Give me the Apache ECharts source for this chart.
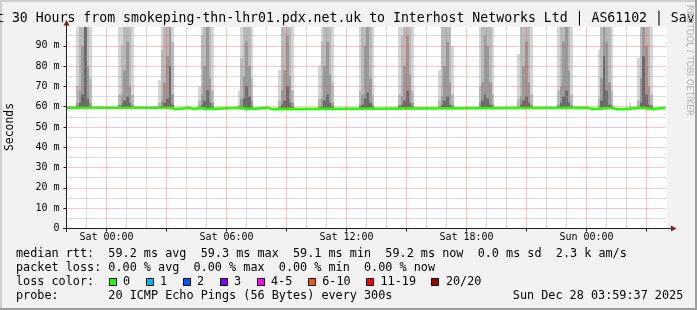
<!DOCTYPE html>
<html><head><meta charset="utf-8">
<script src="https://cdn.jsdelivr.net/npm/echarts@6/dist/echarts.min.js"></script>
<style>html,body{margin:0;padding:0;background:#f2f2f2;}#c{width:697px;height:310px;}</style>
</head><body><div id="c"></div>
<script>
// ---------- data (x = hours since Fri 22:00, y = milliseconds) ----------
const xLabelHours = [2, 8, 14, 20, 26];
const xLabelTexts = ['Sat 00:00', 'Sat 06:00', 'Sat 12:00', 'Sat 18:00', 'Sun 00:00'];
const xMajorGrid = [2, 5, 8, 11, 14, 17, 20, 23, 26, 29];
const xMinorGrid = [1, 3, 4, 6, 7, 9, 10, 12, 13, 15, 16, 18, 19, 21, 22, 24, 25, 27, 28];
const yLabelValues = [0, 10, 20, 30, 40, 50, 60, 70, 80, 90];
const yMajorGrid = [10, 20, 30, 40, 50, 60, 70, 80, 90];
const yMinorGrid = [5, 15, 25, 35, 45, 55, 65, 75, 85, 95];
const yMax = 99.2;

// smoke: start hour of each burst, column step (hours), base and per-column tops [dark, mid, light, lightest]
const smokeStart = [0.475, 2.575, 4.575, 6.575, 8.55, 10.575, 12.575, 14.6, 16.575, 18.575, 20.6, 22.525, 24.525, 26.55, 28.525, 28.1];
const smokeStep = 0.1333;
const smokeBase = 59.2;
const smokeCols = [
  [[60,62,70,99.2],[62,68,99.2,99.2],[66,90,99.2,99.2],[99.2,99.2,99.2,99.2],[64,80,99.2,99.2],[60,62,74,99.2]],
  [[60,61,66,99.2],[61,66,90,99.2],[63,78,99.2,99.2],[65,92,99.2,99.2],[62,70,99.2,99.2],[60,61,66,99.2]],
  [[59.5,60,62,73],[60,63,88,99.2],[62,72,99.2,99.2],[64,85,99.2,99.2],[80,99.2,99.2,99.2],[61,66,92,99.2]],
  [[59.5,60,63,70],[61,66,95,99.2],[63,80,99.2,99.2],[68,99.2,99.2,99.2],[62,74,99.2,99.2],[60,62,68,99.2]],
  [[59.5,60,61,68],[60,64,84,99.2],[64,75,99.2,99.2],[70,92,99.2,99.2],[65,80,99.2,99.2],[60,63,74,99.2]],
  [[59.5,60,63,78],[61,68,99.2,99.2],[63,78,99.2,99.2],[70,95,99.2,99.2],[62,75,99.2,99.2],[60,62,68,99.2]],
  [[59.5,60,64,80],[60,64,92,99.2],[63,80,99.2,99.2],[66,92,99.2,99.2],[62,76,99.2,99.2],[60,62,72,99.2]],
  [[60,61,68,99.2],[61,66,99.2,99.2],[64,90,99.2,99.2],[67,99.2,99.2,99.2],[62,74,99.2,99.2],[60,61,66,99.2]],
  [[60,61,66,99.2],[61,65,95,99.2],[63,80,99.2,99.2],[68,95,99.2,99.2],[62,76,99.2,99.2],[60,62,68,99.2]],
  [[59.5,60,63,78],[61,65,99.2,99.2],[63,80,99.2,99.2],[65,92,99.2,99.2],[61,72,99.2,99.2],[60,61,66,90]],
  [[60,62,70,99.2],[63,72,99.2,99.2],[66,95,99.2,99.2],[64,90,99.2,99.2],[61,72,99.2,99.2],[60,61,66,99.2]],
  [[59.5,60,64,86],[61,65,99.2,99.2],[63,80,99.2,99.2],[65,92,99.2,99.2],[62,72,99.2,99.2],[60,61,66,99.2]],
  [[60,61,68,99.2],[62,70,99.2,99.2],[65,92,99.2,99.2],[68,99.2,99.2,99.2],[62,78,99.2,99.2],[60,61,66,99.2]],
  [[59.5,60,64,88],[63,74,99.2,99.2],[85,99.2,99.2,99.2],[68,92,99.2,99.2],[61,72,99.2,99.2],[60,61,68,99.2]],
  [[59.5,60,63,84],[62,74,99.2,99.2],[85,99.2,99.2,99.2],[66,90,99.2,99.2],[61,70,99.2,99.2],[60,61,66,99.2]],
  [[59.3,59.5,60,62]]
];
const smokeShades = ['#d6d6d6', '#bababa', '#9a9a9a', '#6a6a6a'];

// median rtt: base level and dips [start hour, end hour, value]
const medianStart = 0, medianEnd = 29.93, medianBase = 59.5;
const medianDips = [
  [5.28, 5.43, 58.8], [6.18, 6.33, 58.8], [6.8, 6.95, 58.8], [8.73, 9.03, 58.8], [10.08, 10.28, 58.8],
  [26.08, 26.28, 58.8], [27.3, 27.5, 58.8], [27.6, 27.9, 58.8], [28.75, 29.3, 58.8]
];

// legend statistics
const rttStats = [59.2, 59.3, 59.1, 59.2];   // avg, max, min, now
const rttSd = 0.0;
const amS = 2.3;
const lossStats = [0.00, 0.00, 0.00, 0.00];  // avg, max, min, now
const lossLabels = ['0', '1', '2', '3', '4-5', '6-10', '11-19', '20/20'];
const lossColors = ['#26ff00', '#00b8ff', '#0059ff', '#7e00ff', '#ff00ff', '#ff5500', '#ff0000', '#a10000'];
const titleText = 't 30 Hours from smokeping-thn-lhr01.pdx.net.uk to Interhost Networks Ltd | AS61102 | Sav';
const probeText = '20 ICMP Echo Pings (56 Bytes) every 300s';
const dateText = 'Sun Dec 28 03:59:37 2025';

// ---------- build ----------
const smokeItems = [];
smokeStart.forEach((t, s) => {
  smokeCols[s].forEach((tops, c) => {
    const t0 = t + c * smokeStep, t1 = t0 + smokeStep;
    for (let k = 3; k >= 0; k--) {
      if (tops[k] > smokeBase) smokeItems.push([t0, t1, smokeBase, tops[k], 3 - k]);
    }
  });
});

const medianLine = [[medianStart, medianBase]];
medianDips.forEach(d => {
  medianLine.push([d[0], medianBase], [d[0], d[2]], [d[1], d[2]], [d[1], medianBase]);
});
medianLine.push([medianEnd, medianBase]);

const MONO = 'DejaVu Sans Mono';
const gridRed = 'rgba(222,79,79,0.6)';
const gridGray = 'rgba(143,143,143,0.6)';

const markData = [];
const dash = [1, 1];
xMinorGrid.forEach(v => markData.push({xAxis: v, lineStyle: {color: gridGray, type: dash, width: 1}}));
yMinorGrid.forEach(v => markData.push({yAxis: v, lineStyle: {color: gridGray, type: dash, width: 1}}));
xMajorGrid.forEach(v => markData.push({xAxis: v, lineStyle: {color: gridRed, type: dash, width: 1}}));
yMajorGrid.forEach(v => markData.push({yAxis: v, lineStyle: {color: gridRed, type: dash, width: 1}}));

const f1 = v => v.toFixed(1), f2 = v => v.toFixed(2);
const line1 = `median rtt:  ${f1(rttStats[0])} ms avg  ${f1(rttStats[1])} ms max  ${f1(rttStats[2])} ms min  ${f1(rttStats[3])} ms now  ${f1(rttSd)} ms sd  ${f1(amS)} k am/s`;
const line2 = `packet loss: ${f2(lossStats[0])} % avg  ${f2(lossStats[1])} % max  ${f2(lossStats[2])} % min  ${f2(lossStats[3])} % now`;
const line4 = 'probe:       ' + probeText;

const LF = '11.8px ' + MONO;
const graphics = [
  {type: 'rect', shape: {x: 0, y: 0, width: 697, height: 2}, style: {fill: '#cfcfcf'}, silent: true},
  {type: 'rect', shape: {x: 0, y: 0, width: 2, height: 310}, style: {fill: '#cfcfcf'}, silent: true},
  {type: 'rect', shape: {x: 695, y: 0, width: 2, height: 310}, style: {fill: '#9e9e9e'}, silent: true},
  {type: 'rect', shape: {x: 0, y: 308, width: 697, height: 2}, style: {fill: '#9e9e9e'}, silent: true},
  {type: 'text', x: -4, y: 19, style: {text: titleText, font: '13.2px ' + MONO, fill: '#000', textVerticalAlign: 'middle'}},
  {type: 'text', x: 689, y: 5, rotation: -Math.PI / 2, style: {text: 'RRDTOOL / TOBI OETIKER', font: '8.6px DejaVu Sans', fill: '#b4b4b4', textVerticalAlign: 'middle', textAlign: 'left'}},
  {type: 'text', x: 10.5, y: 127, rotation: Math.PI / 2, style: {text: 'Seconds', font: '11.4px ' + MONO, fill: '#000', textAlign: 'center', textVerticalAlign: 'middle'}},
  // axes
  {type: 'line', shape: {x1: 66.5, y1: 232, x2: 66.5, y2: 24}, style: {stroke: '#1f1f1f', lineWidth: 1}, z: 100},
  {type: 'line', shape: {x1: 63, y1: 228.5, x2: 671, y2: 228.5}, style: {stroke: '#1f1f1f', lineWidth: 1}, z: 100},
  {type: 'polygon', shape: {points: [[63.5, 25.5], [69.5, 25.5], [66.5, 20]]}, style: {fill: '#801f1f'}, z: 100},
  {type: 'polygon', shape: {points: [[671, 225.5], [671, 231.5], [676.5, 228.5]]}, style: {fill: '#801f1f'}, z: 100},
  // legend
  {type: 'text', x: 16, y: 254, style: {text: line1, font: LF, fill: '#000', textVerticalAlign: 'middle'}},
  {type: 'text', x: 16, y: 268, style: {text: line2, font: LF, fill: '#000', textVerticalAlign: 'middle'}},
  {type: 'text', x: 16, y: 282, style: {text: 'loss color:', font: LF, fill: '#000', textVerticalAlign: 'middle'}},
  {type: 'text', x: 16, y: 296, style: {text: line4, font: LF, fill: '#000', textVerticalAlign: 'middle'}},
  {type: 'text', x: 512.8, y: 296, style: {text: dateText, font: LF, fill: '#000', textVerticalAlign: 'middle'}}
];
let bx = 108.5;
lossLabels.forEach((lab, i) => {
  const rx = Math.round(bx) + 0.5;
  graphics.push({type: 'rect', shape: {x: rx, y: 278.5, width: 7, height: 7}, style: {fill: lossColors[i], stroke: '#000', lineWidth: 1}});
  graphics.push({type: 'text', x: bx + 14.5, y: 282, style: {text: lab, font: LF, fill: '#000', textVerticalAlign: 'middle'}});
  bx += 29.9 + 7.1 * lab.length;
});

const chart = echarts.init(document.getElementById('c'), null, {renderer: 'canvas'});
chart.setOption({
  animation: false,
  backgroundColor: '#f2f2f2',
  grid: {left: 66.5, right: 30.5, top: 27.1, bottom: 81.5, show: true, backgroundColor: '#ffffff', borderWidth: 0},
  xAxis: {
    type: 'value', min: 0, max: 30,
    axisLine: {show: false},
    splitLine: {show: false},
    axisTick: {show: true, customValues: xMajorGrid, length: 3, lineStyle: {color: '#1f1f1f'}},
    axisLabel: {customValues: xLabelHours, formatter: v => xLabelTexts[xLabelHours.indexOf(v)] || '',
      fontFamily: MONO, fontSize: 10, color: '#000', margin: 4}
  },
  yAxis: {
    type: 'value', min: 0, max: yMax,
    axisLine: {show: false},
    splitLine: {show: false},
    axisTick: {show: true, customValues: yLabelValues, length: 3, lineStyle: {color: '#1f1f1f'}},
    axisLabel: {customValues: yLabelValues, formatter: v => v === 0 ? '0' : v + ' m',
      fontFamily: MONO, fontSize: 10, color: '#000', margin: 7}
  },
  graphic: graphics,
  series: [
    {
      type: 'custom', z: 2, clip: true,
      encode: {x: [0, 1], y: [2, 3]},
      data: smokeItems,
      renderItem: (params, api) => {
        const p0 = api.coord([api.value(0), api.value(3)]);
        const p1 = api.coord([api.value(1), api.value(2)]);
        const x0 = Math.round(p0[0]), x1 = Math.round(p1[0]);
        return {type: 'rect', shape: {x: x0, y: p0[1], width: x1 - x0, height: p1[1] - p0[1]},
          style: {fill: smokeShades[api.value(4)]}};
      }
    },
    {
      type: 'line', z: 3, data: [], silent: true,
      markLine: {silent: true, symbol: ['none', 'none'], label: {show: false},
        lineStyle: {type: dash, width: 1}, data: markData, animation: false}
    },
    {
      type: 'line', z: 4, data: medianLine, showSymbol: false, symbol: 'none',
      lineStyle: {color: '#26ff00', width: 2.6}
    }
  ]
});
</script></body></html>
